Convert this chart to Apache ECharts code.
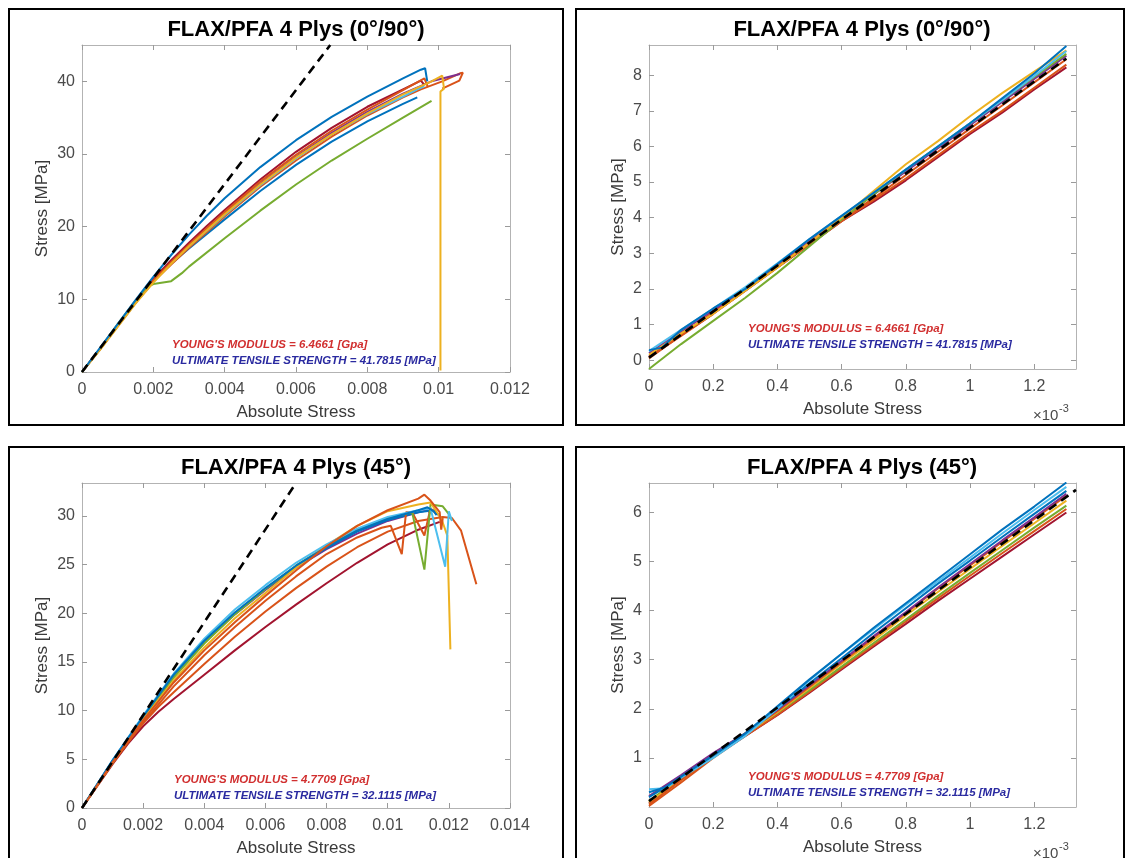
<!DOCTYPE html>
<html><head><meta charset="utf-8">
<script src="https://cdn.jsdelivr.net/npm/echarts@6/dist/echarts.min.js"></script>
<style>html,body{margin:0;padding:0;background:#fff}#c{width:1126px;height:858px}</style>
</head><body><div id="c"></div>
<script>
// ---------- colours (MATLAB default order) ----------
const C_BLUE='#0072BD', C_ORANGE='#D95319', C_YELLOW='#EDB120', C_PURPLE='#7E2F8E', C_GREEN='#77AC30', C_LBLUE='#4DBEEE', C_DRED='#A2142F';

// ---------- tick labels ----------
const p1XTicks=[0,0.002,0.004,0.006,0.008,0.01,0.012];
const p1YTicks=[0,10,20,30,40];
const p2XTicks=[0,0.2,0.4,0.6,0.8,1,1.2];           // x 10^-3
const p2YTicks=[0,1,2,3,4,5,6,7,8];
const p3XTicks=[0,0.002,0.004,0.006,0.008,0.01,0.012,0.014];
const p3YTicks=[0,5,10,15,20,25,30];
const p4XTicks=[0,0.2,0.4,0.6,0.8,1,1.2];           // x 10^-3
const p4YTicks=[1,2,3,4,5,6];

const titles=['FLAX/PFA 4 Plys (0°/90°)','FLAX/PFA 4 Plys (0°/90°)','FLAX/PFA 4 Plys (45°)','FLAX/PFA 4 Plys (45°)'];
const modulusText=["YOUNG'S MODULUS = 6.4661 [Gpa]","YOUNG'S MODULUS = 6.4661 [Gpa]","YOUNG'S MODULUS = 4.7709 [Gpa]","YOUNG'S MODULUS = 4.7709 [Gpa]"];
const utsText=['ULTIMATE TENSILE STRENGTH = 41.7815 [MPa]','ULTIMATE TENSILE STRENGTH = 41.7815 [MPa]','ULTIMATE TENSILE STRENGTH = 32.1115 [MPa]','ULTIMATE TENSILE STRENGTH = 32.1115 [MPa]'];

// ---------- Panel 1 : 0/90 full curves (strain, MPa) ----------
const p1Blue=[[0,0],[0.0005,3.3],[0.001,6.6],[0.0015,9.9],[0.002,13.1],[0.0025,16.1],[0.003,18.9],[0.0035,21.5],[0.004,23.9],[0.005,28.2],[0.006,31.9],[0.007,35.1],[0.008,37.9],[0.009,40.4],[0.0095,41.6],[0.00955,41.8],[0.00962,41.8],[0.00968,40.0]];
const p1Orange=[[0,0],[0.0005,3.1],[0.001,6.4],[0.0015,9.6],[0.002,12.6],[0.0025,15.1],[0.003,17.5],[0.0035,19.8],[0.004,22.0],[0.005,26.2],[0.006,29.9],[0.007,33.2],[0.008,36.1],[0.009,38.8],[0.0096,40.4],[0.0097,39.2]];
const p1Yellow=[[0,0],[0.0005,3.0],[0.001,6.2],[0.0015,9.4],[0.002,12.3],[0.0025,14.9],[0.003,17.3],[0.0035,19.5],[0.004,21.7],[0.005,25.8],[0.006,29.5],[0.007,32.7],[0.008,35.6],[0.009,38.2],[0.0098,40.0],[0.0101,40.8],[0.01015,39.0],[0.01005,38.6],[0.01005,0.2]];
const p1Purple=[[0,0],[0.0005,3.1],[0.001,6.3],[0.0015,9.5],[0.002,12.5],[0.0025,15.0],[0.003,17.4],[0.0035,19.6],[0.004,21.8],[0.005,25.9],[0.006,29.6],[0.007,32.9],[0.008,35.8],[0.009,38.3],[0.0098,40.0],[0.0106,41.0]];
const p1Green=[[0,0],[0.0005,3.2],[0.001,6.6],[0.0015,9.8],[0.0018,11.6],[0.002,12.1],[0.0025,12.5],[0.0028,13.6],[0.003,14.5],[0.004,18.4],[0.005,22.2],[0.006,25.8],[0.007,29.1],[0.008,32.1],[0.009,35.0],[0.0098,37.3]];
const p1LBlue=[[0,0],[0.0005,3.1],[0.001,6.3],[0.0015,9.5],[0.002,12.5],[0.0025,15.0],[0.003,17.3],[0.004,21.6],[0.005,25.7],[0.006,29.4],[0.007,32.7],[0.008,35.5],[0.009,37.9],[0.0094,38.9],[0.0096,39.3]];
const p1DRed=[[0,0],[0.0005,3.2],[0.001,6.5],[0.0015,9.7],[0.002,12.8],[0.0025,15.4],[0.003,17.8],[0.0035,20.1],[0.004,22.3],[0.005,26.5],[0.006,30.3],[0.007,33.6],[0.008,36.5],[0.009,38.9],[0.0095,40.1],[0.0096,39.5]];
const p1Blue2=[[0,0],[0.0005,3.1],[0.001,6.4],[0.0015,9.7],[0.002,12.6],[0.0025,14.9],[0.003,17.0],[0.004,21.0],[0.005,24.9],[0.006,28.5],[0.007,31.7],[0.008,34.5],[0.009,36.9],[0.0094,37.8]];
const p1Orange2=[[0,0],[0.0005,3.1],[0.001,6.3],[0.0015,9.5],[0.002,12.4],[0.0025,14.8],[0.003,17.1],[0.004,21.4],[0.005,25.5],[0.006,29.1],[0.007,32.4],[0.008,35.3],[0.009,37.8],[0.0095,38.9],[0.0101,40.0],[0.0106,41.1],[0.01068,41.2],[0.01058,40.1],[0.0101,39.0]];
const p1Fit=[[0,0],[0.00696,45]];

// ---------- Panel 2 : 0/90 initial region (strain x10^-3, MPa) ----------
const p2Blue=[[0,0.28],[0.04,0.35],[0.1,0.85],[0.2,1.45],[0.3,2.0],[0.4,2.7],[0.5,3.4],[0.6,4.05],[0.7,4.7],[0.8,5.35],[0.9,6.0],[1.0,6.65],[1.1,7.35],[1.2,8.05],[1.3,8.82]];
const p2Orange=[[0,0.05],[0.1,0.7],[0.2,1.35],[0.3,2.0],[0.4,2.65],[0.5,3.3],[0.6,3.95],[0.7,4.55],[0.8,5.2],[0.9,5.85],[1.0,6.5],[1.1,7.15],[1.2,7.8],[1.3,8.45]];
const p2Yellow=[[0,0.15],[0.1,0.75],[0.2,1.3],[0.3,1.95],[0.4,2.6],[0.5,3.3],[0.6,4.0],[0.7,4.75],[0.8,5.5],[0.9,6.15],[1.0,6.85],[1.1,7.5],[1.2,8.1],[1.3,8.7]];
const p2Purple=[[0,0.2],[0.1,0.8],[0.2,1.4],[0.3,2.0],[0.4,2.7],[0.5,3.35],[0.6,4.0],[0.7,4.65],[0.8,5.3],[0.9,5.95],[1.0,6.6],[1.1,7.25],[1.2,7.9],[1.3,8.55]];
const p2Green=[[0,-0.25],[0.05,0.1],[0.1,0.45],[0.2,1.1],[0.3,1.75],[0.4,2.45],[0.5,3.2],[0.6,3.95],[0.7,4.65],[0.8,5.35],[0.9,6.0],[1.0,6.65],[1.1,7.3],[1.2,7.95],[1.3,8.6]];
const p2LBlue=[[0,0.25],[0.1,0.85],[0.2,1.45],[0.3,2.05],[0.4,2.72],[0.5,3.4],[0.6,4.05],[0.7,4.7],[0.8,5.35],[0.9,6.0],[1.0,6.65],[1.1,7.3],[1.2,7.98],[1.3,8.68]];
const p2DRed=[[0,0.1],[0.1,0.7],[0.2,1.3],[0.3,1.95],[0.4,2.6],[0.5,3.25],[0.6,3.9],[0.7,4.45],[0.8,5.05],[0.9,5.7],[1.0,6.35],[1.1,6.95],[1.2,7.6],[1.3,8.22]];
const p2Orange2=[[0,0.08],[0.1,0.68],[0.2,1.3],[0.3,1.95],[0.4,2.6],[0.5,3.25],[0.6,3.9],[0.7,4.5],[0.8,5.1],[0.9,5.75],[1.0,6.4],[1.1,7.0],[1.2,7.65],[1.3,8.3]];
const p2Fit=[[0,0.07],[1.3,8.47]];

// ---------- Panel 3 : 45 full curves (strain, MPa) ----------
const p3OrangeTop=[[0,0],[0.001,4.7],[0.002,9.0],[0.003,12.9],[0.004,16.2],[0.005,19.1],[0.006,21.8],[0.007,24.4],[0.008,26.9],[0.009,29.0],[0.01,30.6],[0.011,31.8],[0.0112,32.2],[0.0114,31.6],[0.0117,30.4],[0.01175,28.6],[0.0118,29.8]];
const p3OrangeB=[[0,0],[0.001,4.6],[0.002,8.8],[0.003,12.5],[0.004,15.7],[0.005,18.6],[0.006,21.3],[0.007,23.8],[0.008,26.1],[0.009,27.8],[0.0098,28.8],[0.0101,29.0],[0.01046,26.1],[0.0106,30.4],[0.0108,30.4],[0.0112,28.0],[0.0114,30.8],[0.0116,30.2]];
const p3Green=[[0,0],[0.001,4.8],[0.002,9.3],[0.003,13.4],[0.004,16.9],[0.005,19.9],[0.006,22.5],[0.007,24.9],[0.008,26.9],[0.009,28.6],[0.01,29.8],[0.0108,30.4],[0.0112,24.5],[0.0114,31.2],[0.0118,31.0],[0.012,30.2],[0.0121,29.6]];
const p3Yellow=[[0,0],[0.001,4.7],[0.002,9.1],[0.003,13.1],[0.004,16.5],[0.005,19.5],[0.006,22.1],[0.007,24.7],[0.008,27.0],[0.009,29.0],[0.01,30.5],[0.011,31.2],[0.0114,31.4],[0.01177,29.6],[0.01195,28.0],[0.01205,16.3]];
const p3Blue=[[0,0],[0.001,4.9],[0.002,9.4],[0.003,13.7],[0.004,17.2],[0.005,20.1],[0.006,22.6],[0.007,24.9],[0.008,26.8],[0.009,28.5],[0.01,29.7],[0.011,30.6],[0.0113,30.9],[0.0115,30.5],[0.0116,30.1]];
const p3LBlue=[[0,0],[0.001,4.9],[0.002,9.5],[0.003,13.8],[0.004,17.4],[0.005,20.4],[0.006,22.9],[0.007,25.2],[0.008,27.1],[0.009,28.7],[0.01,29.9],[0.011,30.6],[0.0114,30.8],[0.01188,24.8],[0.012,30.5],[0.0121,29.5]];
const p3Purple=[[0,0],[0.001,4.8],[0.002,9.3],[0.003,13.5],[0.004,17.0],[0.005,19.9],[0.006,22.4],[0.007,24.7],[0.008,26.6],[0.009,28.2],[0.01,29.5],[0.011,30.4],[0.0113,30.6],[0.0114,30.3]];
const p3DRed=[[0,0],[0.001,4.5],[0.0015,6.6],[0.002,8.4],[0.0025,9.9],[0.003,11.2],[0.004,13.7],[0.005,16.2],[0.006,18.6],[0.007,20.9],[0.008,23.1],[0.009,25.2],[0.01,27.1],[0.011,28.6],[0.0117,29.4]];
const p3OrangeC=[[0,0],[0.001,4.6],[0.0015,6.8],[0.002,8.7],[0.0025,10.4],[0.003,11.9],[0.004,14.8],[0.005,17.6],[0.006,20.2],[0.007,22.6],[0.008,24.8],[0.009,26.8],[0.01,28.4],[0.011,29.5],[0.0118,29.9],[0.0121,29.8],[0.0124,28.5],[0.0129,23.0]];
const p3Blue2=[[0,0],[0.001,4.85],[0.002,9.35],[0.003,13.6],[0.004,17.1],[0.005,20.0],[0.006,22.5],[0.007,24.8],[0.008,26.7],[0.009,28.4],[0.01,29.6],[0.011,30.4],[0.0115,30.6],[0.0117,30.0]];
const p3Fit=[[0,0],[0.0070,33.4]];

// ---------- Panel 4 : 45 initial region (strain x10^-3, MPa) ----------
const p4Blue=[[0,0.3],[0.05,0.4],[0.1,0.62],[0.2,1.05],[0.3,1.5],[0.4,2.05],[0.5,2.6],[0.6,3.12],[0.7,3.65],[0.8,4.15],[0.9,4.65],[1.0,5.15],[1.1,5.65],[1.2,6.12],[1.3,6.61]];
const p4LBlue=[[0,0.36],[0.05,0.38],[0.1,0.6],[0.2,1.0],[0.3,1.45],[0.4,2.0],[0.5,2.58],[0.6,3.12],[0.7,3.62],[0.8,4.12],[0.9,4.6],[1.0,5.08],[1.1,5.57],[1.2,6.05],[1.3,6.52]];
const p4Blue2=[[0,0.2],[0.1,0.6],[0.2,1.05],[0.3,1.48],[0.4,2.0],[0.5,2.52],[0.6,3.03],[0.7,3.55],[0.8,4.05],[0.9,4.55],[1.0,5.02],[1.1,5.5],[1.2,5.97],[1.3,6.44]];
const p4Orange=[[0,0.05],[0.1,0.55],[0.2,1.05],[0.3,1.5],[0.4,1.95],[0.5,2.45],[0.6,2.95],[0.7,3.45],[0.8,3.95],[0.9,4.45],[1.0,4.92],[1.1,5.4],[1.2,5.87],[1.3,6.34]];
const p4Yellow=[[0,0.1],[0.1,0.55],[0.2,1.05],[0.3,1.48],[0.4,1.93],[0.5,2.42],[0.6,2.92],[0.7,3.4],[0.8,3.9],[0.9,4.38],[1.0,4.85],[1.1,5.32],[1.2,5.78],[1.3,6.24]];
const p4Purple=[[0,0.22],[0.1,0.65],[0.2,1.1],[0.3,1.5],[0.4,1.98],[0.5,2.48],[0.6,2.98],[0.7,3.48],[0.8,3.97],[0.9,4.47],[1.0,4.95],[1.1,5.43],[1.2,5.9],[1.3,6.38]];
const p4Green=[[0,0.12],[0.1,0.6],[0.2,1.08],[0.3,1.5],[0.4,1.92],[0.5,2.38],[0.6,2.86],[0.7,3.34],[0.8,3.82],[0.9,4.3],[1.0,4.77],[1.1,5.23],[1.2,5.69],[1.3,6.14]];
const p4Orange2=[[0,0.02],[0.1,0.5],[0.2,1.0],[0.3,1.45],[0.4,1.88],[0.5,2.35],[0.6,2.83],[0.7,3.3],[0.8,3.78],[0.9,4.25],[1.0,4.71],[1.1,5.17],[1.2,5.62],[1.3,6.07]];
const p4DRed=[[0,0.08],[0.1,0.55],[0.2,1.02],[0.3,1.45],[0.4,1.87],[0.5,2.33],[0.6,2.8],[0.7,3.27],[0.8,3.73],[0.9,4.2],[1.0,4.65],[1.1,5.1],[1.2,5.55],[1.3,6.0]];
const p4Fit=[[0,0.12],[1.33,6.46]];

// ---------- layout ----------
const FONT='"Liberation Sans", Arial, Helvetica, sans-serif';
const panels=[
  {grid:{left:82,top:45,width:428,height:327}, x:[0,0.012], y:[0,45], xt:p1XTicks, yt:p1YTicks, yGap:31,
   curves:[[p1Blue2,C_BLUE],[p1Orange2,C_ORANGE],[p1LBlue,C_LBLUE],[p1Purple,C_PURPLE],[p1DRed,C_DRED],[p1Orange,C_ORANGE],[p1Green,C_GREEN],[p1Yellow,C_YELLOW],[p1Blue,C_BLUE]], fit:p1Fit,
   box:[9,9,554,416], tx:[296,30], ann:[172,345]},
  {grid:{left:649,top:45,width:427,height:324}, x:[0,1.33], y:[-0.25,8.85], xt:p2XTicks, yt:p2YTicks, yGap:22, milli:true,
   curves:[[p2DRed,C_DRED],[p2Orange2,C_ORANGE],[p2Orange,C_ORANGE],[p2Purple,C_PURPLE],[p2Green,C_GREEN],[p2Yellow,C_YELLOW],[p2LBlue,C_LBLUE],[p2Blue,C_BLUE]], fit:p2Fit,
   box:[576,9,548,416], tx:[862,30], ann:[748,329]},
  {grid:{left:82,top:483,width:428,height:327}, x:[0,0.014], y:[0,33.4], xt:p3XTicks, yt:p3YTicks, yGap:31,
   curves:[[p3DRed,C_DRED],[p3OrangeC,C_ORANGE],[p3Purple,C_PURPLE],[p3Blue2,C_BLUE],[p3OrangeB,C_ORANGE],[p3Green,C_GREEN],[p3Yellow,C_YELLOW],[p3LBlue,C_LBLUE],[p3Blue,C_BLUE],[p3OrangeTop,C_ORANGE]], fit:p3Fit,
   box:[9,447,554,430], tx:[296,468], ann:[174,780]},
  {grid:{left:649,top:483,width:427,height:324}, x:[0,1.33], y:[0,6.6], xt:p4XTicks, yt:p4YTicks, yGap:22, milli:true,
   curves:[[p4DRed,C_DRED],[p4Orange2,C_ORANGE],[p4Green,C_GREEN],[p4Yellow,C_YELLOW],[p4Orange,C_ORANGE],[p4Purple,C_PURPLE],[p4Blue2,C_BLUE],[p4LBlue,C_LBLUE],[p4Blue,C_BLUE]], fit:p4Fit,
   box:[576,447,548,430], tx:[862,468], ann:[748,777]}
];

const grids=[], xAxes=[], yAxes=[], series=[], graphics=[];
const AX='#b3b3b3', TICK='#9a9a9a', LBL='#4a4a4a';
function fmt(v){ return String(+v.toFixed(6)); }
panels.forEach((p,i)=>{
  grids.push(p.grid);
  const base={gridIndex:i,type:'value',splitLine:{show:false},
    axisLine:{show:true,onZero:false,lineStyle:{color:AX,width:1}}};
  xAxes.push(Object.assign({},base,{position:'bottom',min:p.x[0],max:p.x[1],
    axisTick:{show:true,inside:true,length:5,customValues:p.xt,lineStyle:{color:TICK}},
    axisLabel:{customValues:p.xt,formatter:fmt,color:LBL,fontSize:16,fontFamily:FONT,margin:10},
    name:'Absolute Stress',nameLocation:'middle',nameGap:32,
    nameTextStyle:{color:'#3a3a3a',fontSize:17,fontFamily:FONT}}));
  xAxes.push(Object.assign({},base,{position:'top',min:p.x[0],max:p.x[1],
    axisTick:{show:true,inside:true,length:5,customValues:p.xt,lineStyle:{color:TICK}},
    axisLabel:{show:false}}));
  yAxes.push(Object.assign({},base,{position:'left',min:p.y[0],max:p.y[1],
    axisTick:{show:true,inside:true,length:5,customValues:p.yt,lineStyle:{color:TICK}},
    axisLabel:{customValues:p.yt,formatter:fmt,color:LBL,fontSize:16,fontFamily:FONT,margin:7},
    name:'Stress [MPa]',nameLocation:'middle',nameGap:p.yGap,nameRotate:90,
    nameTextStyle:{color:'#3a3a3a',fontSize:17,fontFamily:FONT}}));
  yAxes.push(Object.assign({},base,{position:'right',min:p.y[0],max:p.y[1],
    axisTick:{show:true,inside:true,length:5,customValues:p.yt,lineStyle:{color:TICK}},
    axisLabel:{show:false}}));
  p.curves.forEach(([d,c])=>{
    series.push({type:'line',xAxisIndex:2*i,yAxisIndex:2*i,data:d,symbol:'none',
      lineStyle:{width:2,color:c},itemStyle:{color:c},silent:true,z:2});
  });
  series.push({type:'line',xAxisIndex:2*i,yAxisIndex:2*i,data:p.fit,symbol:'none',
    lineStyle:{width:2.6,color:'#000',type:[9,6]},itemStyle:{color:'#000'},silent:true,z:3});
  // panel frame
  graphics.push({type:'rect',shape:{x:p.box[0],y:p.box[1],width:p.box[2],height:p.box[3]},
    style:{fill:'none',stroke:'#000',lineWidth:2},z:10});
  graphics.push({type:'text',x:p.tx[0],y:p.tx[1],style:{text:titles[i],fill:'#000',
    font:'bold 22px '+FONT,textAlign:'center',textVerticalAlign:'middle'},z:10});
  graphics.push({type:'text',x:p.ann[0],y:p.ann[1],style:{text:modulusText[i],fill:'#d12f2f',
    font:'italic bold 11.5px '+FONT,textAlign:'left',textVerticalAlign:'middle'},z:10});
  graphics.push({type:'text',x:p.ann[0],y:p.ann[1]+16,style:{text:utsText[i],fill:'#2a2aa0',
    font:'italic bold 11.5px '+FONT,textAlign:'left',textVerticalAlign:'middle'},z:10});
  if(p.milli){
    const by=p.grid.top+p.grid.height;
    graphics.push({type:'text',x:1033,y:by+47,style:{text:'\u00d710',fill:LBL,
      font:'15px '+FONT,textAlign:'left',textVerticalAlign:'middle'},z:10});
    graphics.push({type:'text',x:1059,y:by+40,style:{text:'-3',fill:LBL,
      font:'11px '+FONT,textAlign:'left',textVerticalAlign:'middle'},z:10});
  }
});

const chart=echarts.init(document.getElementById('c'),null,{renderer:'canvas'});
chart.setOption({animation:false,backgroundColor:'#fff',grid:grids,xAxis:xAxes,yAxis:yAxes,series:series,graphic:graphics});
</script></body></html>
